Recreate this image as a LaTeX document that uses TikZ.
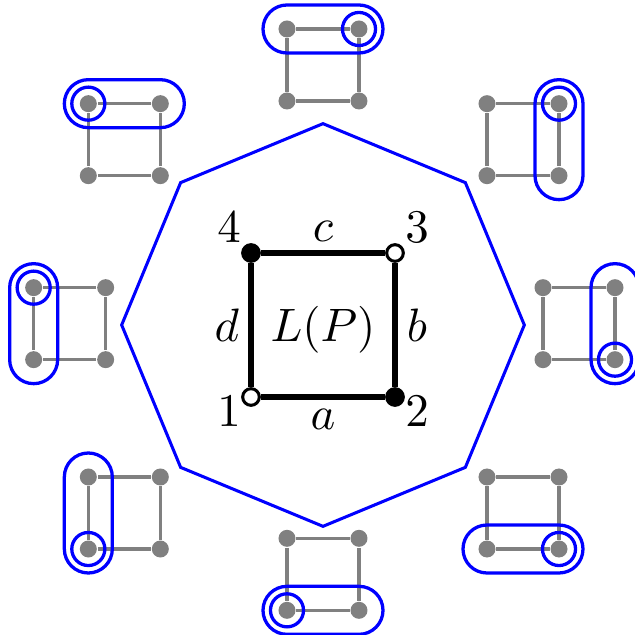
\documentclass[tikz,border=0pt]{standalone}
\usepackage{tikz}
\usetikzlibrary{calc,positioning,shapes.geometric}
\tikzset{
    vertex/.style={
        circle,
        draw=black, line width=0.65pt,
        inner sep=0pt,
        minimum size=0.125cm
    },
    blackvertex/.style={vertex, fill=black},
    whitevertex/.style={vertex, fill=white},
    poset/.style={draw, line width=1.07pt},
    vlabel/.style={inner sep=2pt},
    elabel/.style={inner sep=2pt, midway},
    smalldot/.style={
        circle,
        fill=black!50,
        inner sep=0pt,
        minimum size=0.1275cm
    },
    smalledge/.style={draw=black!50, line width=0.65pt},
    flag/.style={draw=blue, line width=0.7pt},
    octagon/.style={
        regular polygon,
        regular polygon sides=8,
        shape border rotate=22.5,
        draw=blue, line width=0.65pt,
        inner sep=0pt,
        minimum size=3.02cm
    }
}

\begin{document}
\begin{tikzpicture}
    \useasboundingbox (-2.4225,-2.325) rectangle (2.3325,2.4375);

    % the lattice in the middle
    \node[octagon] (oct) at (0,0) {};
    \node[whitevertex] (v1) at (-0.54,-0.54) {};
    \node[blackvertex] (v2) at (0.54,-0.54) {};
    \node[whitevertex] (v3) at (0.54,0.54) {};
    \node[blackvertex] (v4) at (-0.54,0.54) {};
    \draw[poset] (v1) -- node[elabel, below] (ea) {$a$} (v2)
                      -- node[elabel, right] (eb) {$b$} (v3)
                      -- node[elabel, above] (ec) {$c$} (v4)
                      -- node[elabel, left]  (ed) {$d$} (v1);
    \node (lp) at (0,-0.035) {$L(P)$};

    \node[vlabel, below left, yshift=2.3pt]  (n1) at (v1) {$1$};
    \node[vlabel, below right, yshift=2.3pt] (n2) at (v2) {$2$};
    \node[vlabel, above right] (n3) at (v3) {$3$};
    \node[vlabel, above left]  (n4) at (v4) {$4$};

    % -- flags round the octagon -- %
    \foreach \nm/\cx/\cy/\lo/\hi/\pt in {
        t/0/1.95/4/3/3,      tr/1.5/1.39/2/3/3,
        r/1.92/0.01/2/3/2,   br/1.5/-1.41/1/2/2,
        b/0/-1.87/1/2/1,     bl/-1.49/-1.41/1/4/1,
        l/-1.9/0.01/1/4/4,   tl/-1.49/1.39/4/3/4}
    {
        \begin{scope}[shift={(\cx,\cy)}]
            \node[smalldot] (\nm1) at (-0.27,-0.27) {};
            \node[smalldot] (\nm2) at (0.27,-0.27) {};
            \node[smalldot] (\nm3) at (0.27,0.27) {};
            \node[smalldot] (\nm4) at (-0.27,0.27) {};
            \draw[smalledge] (\nm1) -- (\nm2) -- (\nm3) -- (\nm4) -- (\nm1);
            \draw[flag, rounded corners=0.18cm]
                ($(\nm\lo)+(-0.18,-0.18)$) rectangle ($(\nm\hi)+(0.18,0.18)$);
            \draw[flag] (\nm\pt) circle (0.124cm);
        \end{scope}
    }
\end{tikzpicture}
\end{document}
